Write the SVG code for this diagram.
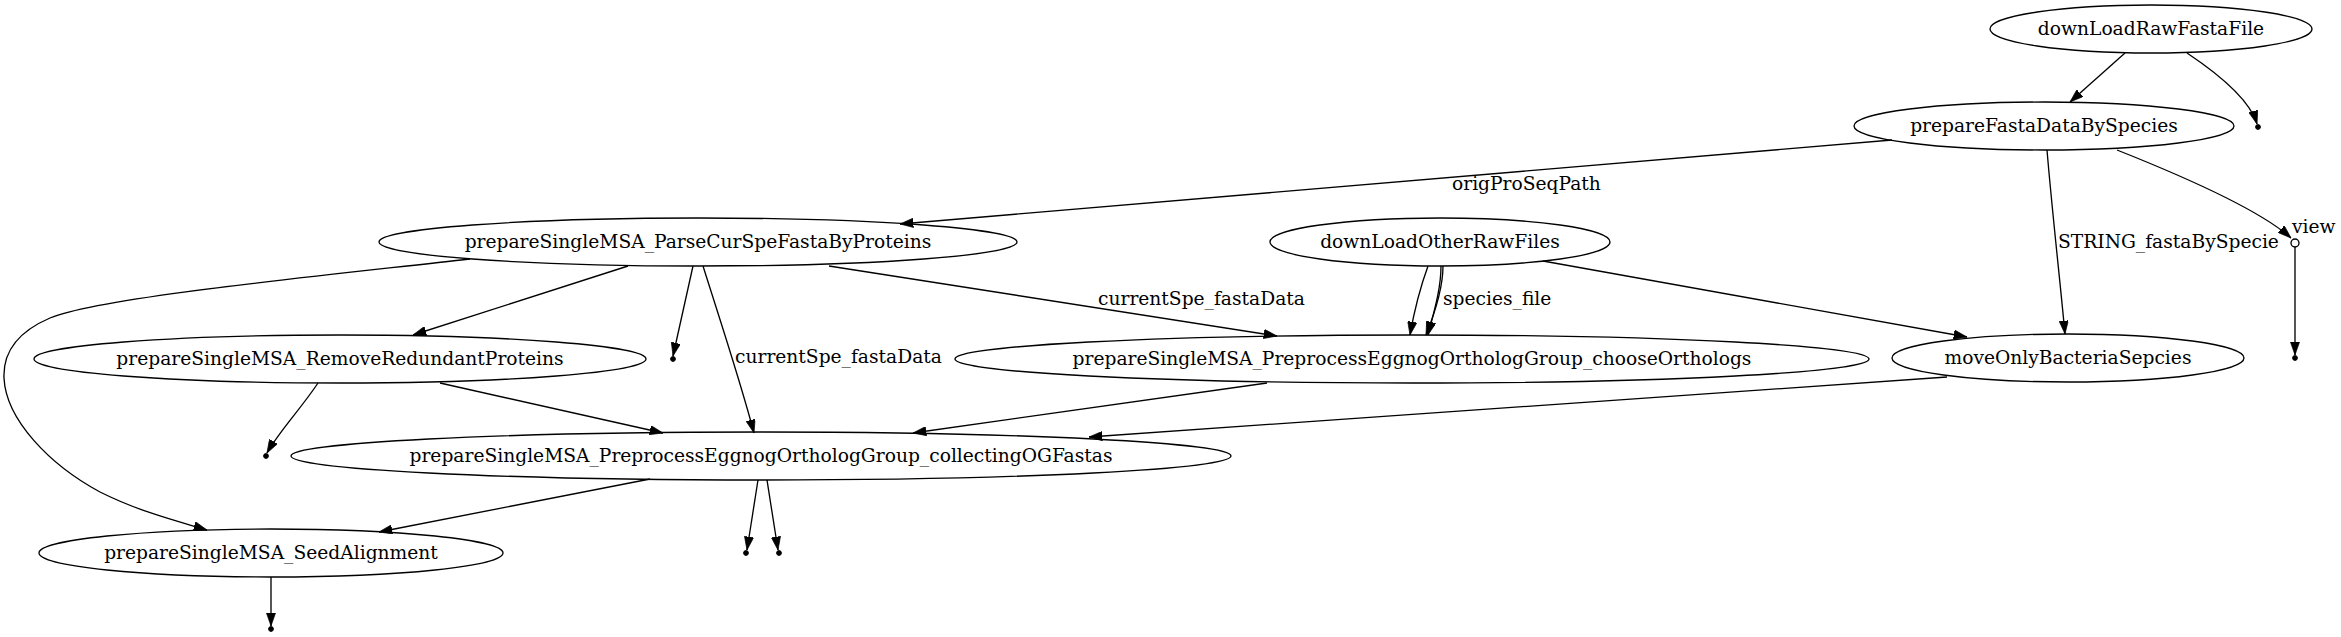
<svg xmlns="http://www.w3.org/2000/svg" width="2341" height="637" viewBox="0 0 2341 637">
<style>
.n ellipse{fill:none;stroke:#000;stroke-width:1.33}
text{font-family:"DejaVu Serif","Liberation Serif",serif;font-size:18.67px;fill:#000}
.n text{text-anchor:middle}
.pt{fill:#000;stroke:#000}
.e path{fill:none;stroke:#000;stroke-width:1.33;marker-end:url(#ah)}
.lbl{text-anchor:start}
</style>
<defs>
<marker id="ah" viewBox="0 0 10 7" refX="10" refY="3.5" markerWidth="13.3" markerHeight="9.3" markerUnits="userSpaceOnUse" orient="auto">
<path d="M0,0 L10,3.5 L0,7 z" fill="#000" stroke="#000" stroke-width="0.5"/>
</marker>
</defs>
<rect width="2341" height="637" fill="#fff"/>
<g id="edges" class="e">
<path d="M2125,53 L2070,102"/>
<path d="M2187,53 C2220,75 2250,100 2257,124"/>
<path d="M1892,140 L900,224"/>
<path d="M2047,150 C2052,210 2060,280 2065,334"/>
<path d="M2117,150 C2180,175 2260,210 2291,238"/>
<path d="M2295,247 L2295,355"/>
<path d="M1428,266 C1420,288 1414,312 1410,335"/>
<path d="M1443,266 C1443,290 1434,315 1426,335"/>
<path d="M1441,266 C1441,290 1433,315 1428,335"/>
<path d="M1543,261 L1967,337"/>
<path d="M628,266 L413,335"/>
<path d="M693,266 L673,356"/>
<path d="M703,266 C720,320 740,380 754,433"/>
<path d="M829,266 L1277,336"/>
<path d="M470,259 C330,275 100,297 50,318 C15,333 3,355 4,378 C6,420 50,465 100,492 C140,512 180,522 207,530"/>
<path d="M318,383 C300,410 280,430 267,453"/>
<path d="M440,383 L663,433"/>
<path d="M1267,383 L913,433"/>
<path d="M1947,377 L1089,437"/>
<path d="M650,479 L379,532"/>
<path d="M758,480 L747,550"/>
<path d="M767,480 L778,550"/>
<path d="M271,577 L271,626"/>
<text class="lbl" x="1452" y="190">origProSeqPath</text>
<text class="lbl" x="2058" y="248">STRING_fastaBySpecie</text>
<text class="lbl" x="2292" y="233">view</text>
<text class="lbl" x="1443" y="305">species_file</text>
<text class="lbl" x="735" y="363">currentSpe_fastaData</text>
<text class="lbl" x="1098" y="305">currentSpe_fastaData</text>
</g>
<g id="downLoadRawFastaFile" class="n"><ellipse cx="2151" cy="29" rx="161" ry="24"/><text x="2151" y="35">downLoadRawFastaFile</text></g>
<g id="prepareFastaDataBySpecies" class="n"><ellipse cx="2044" cy="126" rx="190" ry="24"/><text x="2044" y="132">prepareFastaDataBySpecies</text></g>
<g id="point1" class="n"><circle class="pt" cx="2258" cy="127" r="2.4"/></g>
<g id="view" class="n"><circle cx="2295" cy="243" r="4" fill="#fff" stroke="#000" stroke-width="1.33"/></g>
<g id="point2" class="n"><circle class="pt" cx="2295" cy="358" r="2.4"/></g>
<g id="moveOnlyBacteriaSepcies" class="n"><ellipse cx="2068" cy="358" rx="176" ry="24"/><text x="2068" y="364">moveOnlyBacteriaSepcies</text></g>
<g id="downLoadOtherRawFiles" class="n"><ellipse cx="1440" cy="242" rx="170" ry="24"/><text x="1440" y="248">downLoadOtherRawFiles</text></g>
<g id="chooseOrthologs" class="n"><ellipse cx="1412" cy="359" rx="457" ry="24"/><text x="1412" y="365">prepareSingleMSA_PreprocessEggnogOrthologGroup_chooseOrthologs</text></g>
<g id="ParseCurSpeFastaByProteins" class="n"><ellipse cx="698" cy="242" rx="319" ry="24"/><text x="698" y="248">prepareSingleMSA_ParseCurSpeFastaByProteins</text></g>
<g id="point3" class="n"><circle class="pt" cx="673" cy="359" r="2.4"/></g>
<g id="RemoveRedundantProteins" class="n"><ellipse cx="340" cy="359" rx="306" ry="24"/><text x="340" y="365">prepareSingleMSA_RemoveRedundantProteins</text></g>
<g id="point4" class="n"><circle class="pt" cx="266" cy="456" r="2.4"/></g>
<g id="collectingOGFastas" class="n"><ellipse cx="761" cy="456" rx="470" ry="24"/><text x="761" y="462">prepareSingleMSA_PreprocessEggnogOrthologGroup_collectingOGFastas</text></g>
<g id="point5" class="n"><circle class="pt" cx="746" cy="553" r="2.4"/></g>
<g id="point6" class="n"><circle class="pt" cx="779" cy="553" r="2.4"/></g>
<g id="SeedAlignment" class="n"><ellipse cx="271" cy="553" rx="232" ry="24"/><text x="271" y="559">prepareSingleMSA_SeedAlignment</text></g>
<g id="point7" class="n"><circle class="pt" cx="271" cy="629" r="2.4"/></g>
</svg>
